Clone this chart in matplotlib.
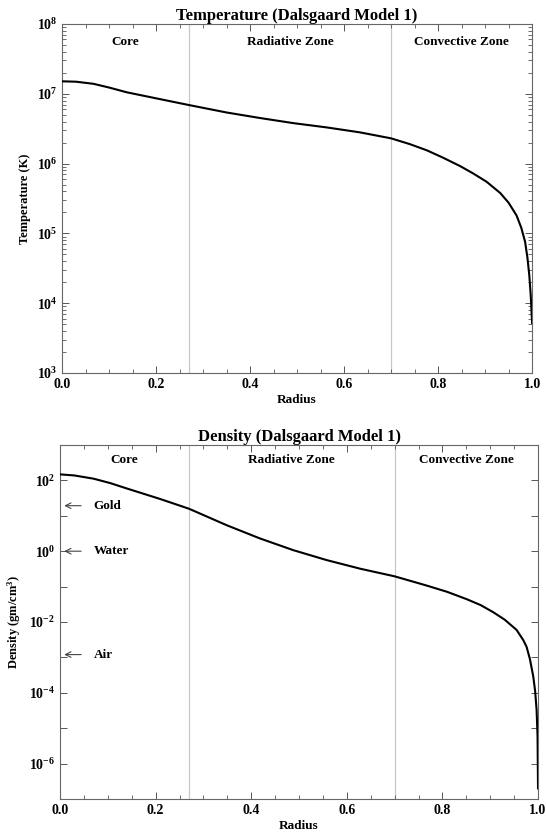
import numpy as np
import matplotlib.pyplot as plt
from matplotlib.ticker import MultipleLocator, LogLocator, NullFormatter, FixedLocator, FixedFormatter

plt.rcParams['font.family'] = ['Liberation Serif', 'DejaVu Serif']
plt.rcParams['font.weight'] = 'bold'
plt.rcParams['mathtext.fontset'] = 'custom'
plt.rcParams['mathtext.rm'] = 'Liberation Serif:bold'
plt.rcParams['mathtext.it'] = 'Liberation Serif:italic:bold'
plt.rcParams['mathtext.bf'] = 'Liberation Serif:bold'
plt.rcParams['axes.unicode_minus'] = False

# Datos
r_temp = [0.0, 0.03, 0.067, 0.10, 0.138, 0.208, 0.27, 0.35, 0.421, 0.492, 0.563, 0.634, 0.70,
          0.74, 0.776, 0.81, 0.847, 0.875, 0.903, 0.932, 0.95, 0.967, 0.977, 0.985, 0.99,
          0.994, 0.997, 0.999, 1.0]
temp = [1.51e7, 1.49e7, 1.39e7, 1.23e7, 1.05e7, 8.4e6, 6.9e6, 5.4e6, 4.5e6, 3.8e6, 3.3e6, 2.8e6, 2.3e6,
        1.9e6, 1.55e6, 1.22e6, 9.2e5, 7.2e5, 5.5e5, 3.8e5, 2.75e5, 1.8e5, 1.2e5, 7.6e4, 4.5e4,
        2.5e4, 1.3e4, 7.0e3, 5.2e3]

r_dens = [0.0, 0.03, 0.07, 0.105, 0.14, 0.209, 0.27, 0.349, 0.418, 0.488, 0.558, 0.628, 0.70,
          0.767, 0.81, 0.851, 0.88, 0.906, 0.93, 0.955, 0.969, 0.976, 0.983, 0.990, 0.994,
          0.997, 0.999, 1.0]
dens = [148, 138, 112, 84, 59, 30, 15.8, 5.4, 2.3, 1.07, 0.56, 0.32, 0.195,
        0.107, 0.071, 0.044, 0.030, 0.019, 0.0117, 6.0e-3, 3.1e-3, 2.0e-3, 9.0e-4, 2.9e-4, 1.1e-4,
        3.3e-5, 6.0e-6, 2.0e-7]

zone_edges = [0.27, 0.70]
zone_names = ["Core", "Radiative Zone", "Convective Zone"]
zone_centers = [0.135, 0.485, 0.85]

ref_names = ["Gold", "Water", "Air"]
ref_dens = [19.3, 1.0, 1.2e-3]

dens_ticks = [10.0**k for k in range(-7, 4)]
dens_labels = ['' if k % 2 else r'$\mathdefault{10^{%d}}$' % k for k in range(-7, 4)]

fig = plt.figure(figsize=(5.46, 8.39), dpi=100)
ax1 = fig.add_axes([0.1136, 0.5554, 0.861, 0.416])
ax2 = fig.add_axes([0.1099, 0.0477, 0.8755, 0.4219])


def estilo(ax):
    ax.set_xlim(0, 1)
    ax.xaxis.set_major_locator(MultipleLocator(0.2))
    ax.xaxis.set_minor_locator(MultipleLocator(0.05))
    ax.tick_params(which='both', direction='in', top=True, right=True,
                   colors='#555555', labelcolor='black', labelsize=10)
    ax.tick_params(which='major', length=5, width=0.7)
    ax.tick_params(which='minor', length=3, width=0.6)
    for s in ax.spines.values():
        s.set_color('#666666')
        s.set_linewidth(0.8)
    for x in zone_edges:
        ax.axvline(x, color='#c8c8c8', lw=0.9, zorder=1)
    ax.set_xlabel("Radius", fontsize=9.5, fontweight='bold', labelpad=2)


# Temperatura
ax1.plot(r_temp, temp, color='black', lw=1.5, zorder=3)
ax1.set_yscale('log')
ax1.set_ylim(1e3, 1e8)
estilo(ax1)
ax1.yaxis.set_minor_locator(LogLocator(base=10, subs=np.arange(2, 10)))
ax1.yaxis.set_minor_formatter(NullFormatter())
ax1.set_title("Temperature (Dalsgaard Model 1)", fontsize=12, fontweight='bold', pad=3)
ax1.set_ylabel("Temperature (K)", fontsize=9, fontweight='bold', labelpad=4)
for name, xc in zip(zone_names, zone_centers):
    ax1.text(xc, 0.948, name, transform=ax1.transAxes, ha='center', va='center',
             fontsize=9.5, fontweight='bold')

# Densidad
ax2.plot(r_dens, dens, color='black', lw=1.5, zorder=3)
ax2.set_yscale('log')
ax2.set_ylim(1e-7, 1e3)
estilo(ax2)
ax2.yaxis.set_major_locator(FixedLocator(dens_ticks))
ax2.yaxis.set_major_formatter(FixedFormatter(dens_labels))
ax2.yaxis.set_minor_locator(FixedLocator([]))
ax2.set_title("Density (Dalsgaard Model 1)", fontsize=12, fontweight='bold', pad=3)
ax2.set_ylabel(r"Density (gm/cm$^{3}$)", fontsize=9, fontweight='bold', labelpad=4)
for name, xc in zip(zone_names, zone_centers):
    ax2.text(xc, 0.958, name, transform=ax2.transAxes, ha='center', va='center',
             fontsize=9.5, fontweight='bold')
for name, d in zip(ref_names, ref_dens):
    ax2.annotate("", xy=(0.003, d), xytext=(0.05, d),
                 arrowprops=dict(arrowstyle='->', color='#444444', lw=0.8))
    ax2.text(0.07, d, name, ha='left', va='center', fontsize=9.5, fontweight='bold')

fig.savefig("out.png", dpi=100)
